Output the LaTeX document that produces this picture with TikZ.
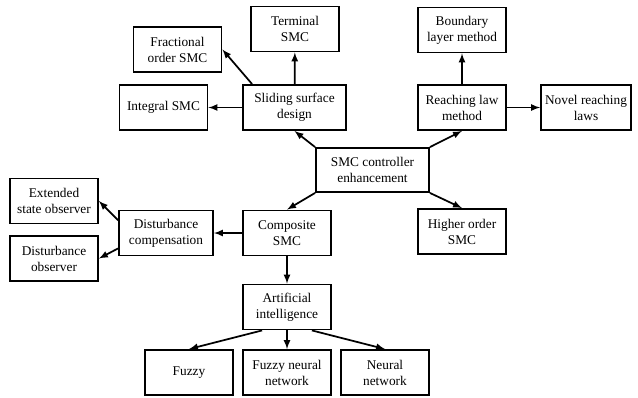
\documentclass[tikz,border=0pt]{standalone}
\usepackage{fontspec}
\setmainfont{Liberation Serif}
\begin{document}
\begin{tikzpicture}[>=latex, x=0.75pt, y=-0.75pt,
    box/.style={draw, line width=1.4pt, align=center, minimum width=66pt, minimum height=33.75pt, inner sep=2pt, font=\fontsize{10}{12}\selectfont},
    arr/.style={->, line width=1.3pt}]
\useasboundingbox (0,0) rectangle (638,397);
% centre
\node[box, minimum width=84.75pt, minimum height=33pt] (enh) at (372.5,170) {SMC controller\\enhancement};
% sliding surface branch
\node[box, minimum width=77.25pt] (slide) at (294.5,107.5) {Sliding surface\\design};
\node[box] (term) at (295,29) {Terminal\\SMC};
\node[box] (frac) at (177.5,49.5) {Fractional\\order SMC};
\node[box] (integ) at (163.5,107.5) {Integral SMC};
% reaching law branch
\node[box] (reach) at (462,107.5) {Reaching law\\method};
\node[box] (bound) at (462,30) {Boundary\\layer method};
\node[box, minimum width=67.5pt] (novel) at (586,107.5) {Novel reaching\\laws};
\node[box] (higher) at (462,231.5) {Higher order\\SMC};
% composite branch
\node[box] (comp) at (287,233) {Composite\\SMC};
\node[box, minimum width=70.5pt] (dcomp) at (166,233) {Disturbance\\compensation};
\node[box] (eso) at (54,201) {Extended\\state observer};
\node[box] (dobs) at (54,258.5) {Disturbance\\observer};
\node[box] (ai) at (287,307) {Artificial\\intelligence};
\node[box] (fuzzy) at (189,372.5) {Fuzzy};
\node[box] (fnn) at (287,372.5) {Fuzzy neural\\network};
\node[box] (nn) at (385,372.5) {Neural\\network};

\draw[arr] (enh.north west)--(slide.south);
\draw[arr] (enh.north east)--(reach.south);
\draw[arr] (enh.south west)--(comp.north);
\draw[arr] (enh.south east)--(higher.north);
\draw[arr] (slide)--(term);
\draw[arr] ([xshift=7.5pt]slide.north west)--(frac.east);
\draw[arr] (slide)--(integ);
\draw[arr] (reach)--(bound);
\draw[arr] (reach)--(novel);
\draw[arr] (comp)--(dcomp);
\draw[arr] ([yshift=-8pt]dcomp.north west)--(eso.east);
\draw[arr] ([yshift=6pt]dcomp.south west)--(dobs.east);
\draw[arr] (comp)--(ai);
\draw[arr] ([xshift=15pt]ai.south west)--(fuzzy.north);
\draw[arr] (ai)--(fnn);
\draw[arr] ([xshift=-15pt]ai.south east)--(nn.north);
\end{tikzpicture}
\end{document}
